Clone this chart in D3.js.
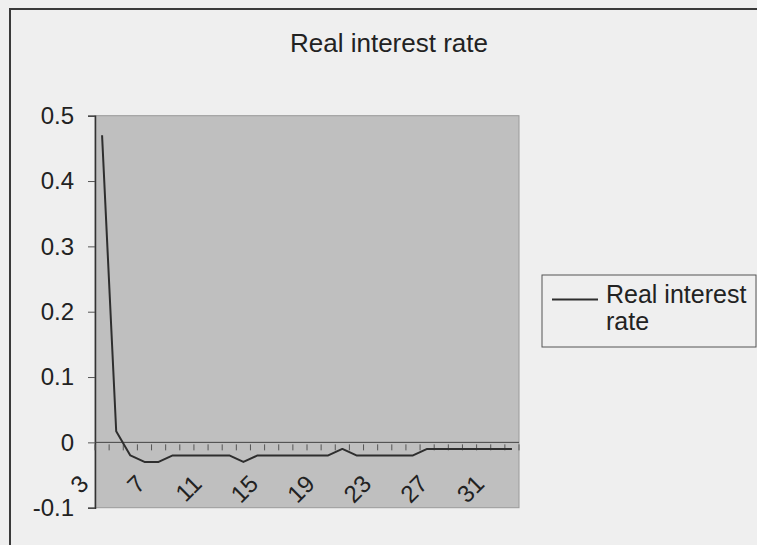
<!DOCTYPE html>
<html>
<head>
<meta charset="utf-8">
<script src="https://cdn.jsdelivr.net/npm/d3@7"></script>
<style>
  html, body { margin: 0; padding: 0; background: #efefef; }
  svg { display: block; }
  text { font-family: "Liberation Sans", Arial, sans-serif; fill: #222; }
</style>
</head>
<body>
<svg id="chart" width="757" height="545"></svg>
<script>
// ---- data ----
const categories = [3,4,5,6,7,8,9,10,11,12,13,14,15,16,17,18,19,20,21,22,23,24,25,26,27,28,29,30,31,32];
const realInterestRate = [0.47, 0.017, -0.02, -0.03, -0.03, -0.02, -0.02, -0.02, -0.02, -0.02,
                          -0.03, -0.02, -0.02, -0.02, -0.02, -0.02, -0.02, -0.01, -0.02, -0.02,
                          -0.02, -0.02, -0.02, -0.01, -0.01, -0.01, -0.01, -0.01, -0.01, -0.01];
const xTickLabels = [3, 7, 11, 15, 19, 23, 27, 31];
const yTickValues = [-0.1, 0, 0.1, 0.2, 0.3, 0.4, 0.5];
const yTickLabels = ["-0.1", "0", "0.1", "0.2", "0.3", "0.4", "0.5"];
const chartTitle = "Real interest rate";
const seriesName = ["Real interest", "rate"];

// ---- layout ----
const svg = d3.select("#chart");
const plot = { left: 95, right: 519, top: 115.7, bottom: 507.7 };

// chart frame (top and left edges visible)
svg.append("rect").attr("x", 10).attr("y", 9).attr("width", 780).attr("height", 560)
  .attr("fill", "#efefef").attr("stroke", "#3a3a3a").attr("stroke-width", 2);

const x = d3.scaleBand().domain(categories).range([plot.left, plot.right]).padding(0);
const y = d3.scaleLinear().domain([-0.1, 0.5]).range([plot.bottom, plot.top]);

// plot area
svg.append("rect")
  .attr("x", plot.left).attr("y", plot.top)
  .attr("width", plot.right - plot.left).attr("height", plot.bottom - plot.top)
  .attr("fill", "#bfbfbf").attr("stroke", "#9a9a9a").attr("stroke-width", 1);

// title
svg.append("text").attr("x", 389).attr("y", 52).attr("text-anchor", "middle")
  .attr("font-size", 26).text(chartTitle);

// y axis
const yAxis = d3.axisLeft(y).tickValues(yTickValues)
  .tickFormat((d, i) => yTickLabels[i]).tickSize(7).tickPadding(14);
const gy = svg.append("g").attr("transform", `translate(${plot.left},0)`).call(yAxis);
gy.select(".domain").attr("stroke", "#333").attr("stroke-width", 1.5);
gy.selectAll(".tick line").attr("stroke", "#555");
gy.selectAll(".tick text").attr("font-size", 24).attr("fill", "#222")
  .attr("font-family", "Liberation Sans, Arial, sans-serif");

// x axis line at zero
const y0 = y(0);
svg.append("line").attr("x1", plot.left).attr("x2", plot.right)
  .attr("y1", y0).attr("y2", y0).attr("stroke", "#444").attr("stroke-width", 1);

// category boundary tick marks
const boundaries = categories.map(c => x(c)).concat([plot.right]);
svg.append("g").selectAll("line").data(boundaries).join("line")
  .attr("x1", d => d).attr("x2", d => d)
  .attr("y1", y0 + 2).attr("y2", y0 + 8)
  .attr("stroke", "#555").attr("stroke-width", 1);

// rotated category labels
svg.append("g").selectAll("text").data(xTickLabels).join("text")
  .attr("transform", d => `translate(${x(d) + x.bandwidth() / 2 - 12},${y0 + 43}) rotate(-45)`)
  .attr("text-anchor", "end")
  .attr("font-size", 24)
  .text(d => d);

// series line
const line = d3.line()
  .x((d, i) => x(categories[i]) + x.bandwidth() / 2)
  .y(d => y(d));
svg.append("path").datum(realInterestRate)
  .attr("d", line).attr("fill", "none")
  .attr("stroke", "#2e2e2e").attr("stroke-width", 2).attr("stroke-linejoin", "round");

// legend
const lg = svg.append("g");
lg.append("rect").attr("x", 542).attr("y", 275).attr("width", 214).attr("height", 72)
  .attr("fill", "#efefef").attr("stroke", "#555").attr("stroke-width", 1);
lg.append("line").attr("x1", 552).attr("x2", 598).attr("y1", 299.5).attr("y2", 299.5)
  .attr("stroke", "#2e2e2e").attr("stroke-width", 2);
lg.selectAll("text.lab").data(seriesName).join("text").attr("class", "lab")
  .attr("x", 606).attr("y", (d, i) => 303 + i * 27)
  .attr("font-size", 25).text(d => d);
</script>
</body>
</html>
